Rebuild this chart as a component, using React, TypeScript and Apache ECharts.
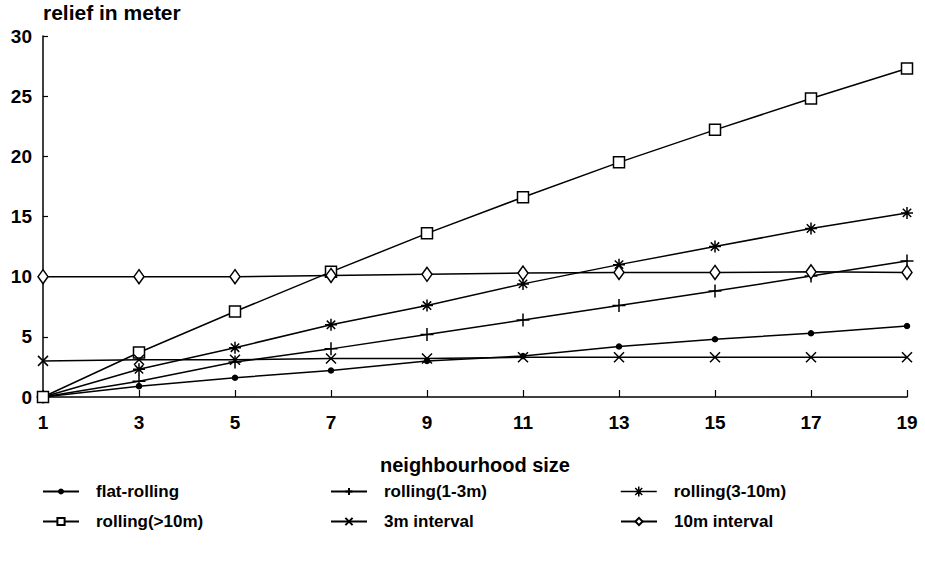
import React, { useEffect, useRef } from "react";
import * as echarts from "echarts";

const categories = ["1", "3", "5", "7", "9", "11", "13", "15", "17", "19"];
const flatRolling = [0, 0.9, 1.6, 2.2, 3.0, 3.4, 4.2, 4.8, 5.3, 5.9];
const rolling1to3 = [0, 1.3, 2.9, 4.0, 5.2, 6.4, 7.6, 8.8, 10.05, 11.3];
const rolling3to10 = [0, 2.3, 4.1, 6.0, 7.6, 9.4, 11.0, 12.5, 14.0, 15.3];
const rollingOver10 = [0, 3.7, 7.1, 10.4, 13.6, 16.6, 19.5, 22.2, 24.8, 27.3];
const interval3m = [3.0, 3.1, 3.1, 3.2, 3.2, 3.3, 3.3, 3.3, 3.3, 3.3];
const interval10m = [10.0, 10.0, 10.0, 10.1, 10.2, 10.3, 10.35, 10.35, 10.4, 10.35];

const seriesNames = [
  "flat-rolling",
  "rolling(1-3m)",
  "rolling(3-10m)",
  "rolling(>10m)",
  "3m interval",
  "10m interval",
];

const PLUS = "path://M5,0L5,10M0,5L10,5";
const STAR = "path://M5,0L5,10M0,5L10,5M1.5,1.5L8.5,8.5M8.5,1.5L1.5,8.5";
const CROSS = "path://M0,0L10,10M10,0L0,10";
const STAR_LEGEND =
  "path://M0,5L36,5M18,0L18,10M13,5L23,5M14.5,1.5L21.5,8.5M21.5,1.5L14.5,8.5";

export default function App() {
  const ref = useRef<HTMLDivElement>(null);
  useEffect(() => {
    if (!ref.current) return;
    const chart = echarts.init(ref.current, null, { renderer: "svg" });
    const font = "'Liberation Sans', Arial, Helvetica, sans-serif";
    const black = "#000";
    const mk = (name: string, data: number[], symbol: string, size: any, hollow: boolean) => ({
      name,
      type: "line",
      data,
      symbol,
      symbolSize: size,
      showSymbol: true,
      lineStyle: { color: black, width: 1.5 },
      itemStyle: {
        color: hollow ? "#fff" : black,
        borderColor: black,
        borderWidth: 1.5,
      },
      z: 3,
    });
    const legendPos = [
      [42, 483],
      [330, 483],
      [620, 483],
      [42, 513],
      [330, 513],
      [620, 513],
    ];
    const option: any = {
      animation: false,
      backgroundColor: "#fff",
      textStyle: { fontFamily: font, color: black },
      grid: { left: 43, right: 18, top: 36, bottom: 176, containLabel: false },
      legend: seriesNames.map((n, i) => ({
        data:
          i === 2
            ? [
                {
                  name: n,
                  icon: STAR_LEGEND,
                  itemStyle: { color: black, borderColor: black, borderWidth: 1.5 },
                },
              ]
            : [n],
        left: legendPos[i][0],
        top: legendPos[i][1],
        itemWidth: 36,
        itemHeight: i === 0 ? 5 : i === 2 ? 10 : 9,
        padding: 0,
        selectedMode: false,
        textStyle: {
          fontFamily: font,
          fontSize: 17,
          fontWeight: "bold",
          color: black,
          padding: [0, 0, 0, 12],
        },
      })),
      xAxis: {
        type: "category",
        data: categories,
        boundaryGap: false,
        name: "neighbourhood size",
        nameLocation: "middle",
        nameGap: 58,
        nameTextStyle: { fontFamily: font, fontSize: 20, fontWeight: "bold", color: black },
        axisLine: { lineStyle: { color: black, width: 1.5 } },
        axisTick: { inside: true, length: 7, lineStyle: { color: black, width: 1.2 } },
        axisLabel: { fontFamily: font, fontSize: 19, fontWeight: "bold", color: black, margin: 16 },
        splitLine: { show: false },
      },
      yAxis: {
        type: "value",
        min: 0,
        max: 30,
        interval: 5,
        name: "relief in meter",
        nameLocation: "end",
        nameGap: 13,
        nameTextStyle: { fontFamily: font, fontSize: 21, fontWeight: "bold", color: black, align: "left" },
        axisLine: { show: true, lineStyle: { color: black, width: 1.5 } },
        axisTick: { show: true, inside: true, length: 5, lineStyle: { color: black, width: 1.2 } },
        axisLabel: { fontFamily: font, fontSize: 19, fontWeight: "bold", color: black, margin: 11 },
        splitLine: { show: false },
      },
      series: [
        mk(seriesNames[0], flatRolling, "circle", 5, false),
        mk(seriesNames[1], rolling1to3, PLUS, 13, false),
        mk(seriesNames[2], rolling3to10, STAR, 12, false),
        mk(seriesNames[3], rollingOver10, "rect", 11, true),
        mk(seriesNames[4], interval3m, CROSS, 10, false),
        mk(seriesNames[5], interval10m, "diamond", [10, 14], true),
      ],
    };
    chart.setOption(option);
    return () => chart.dispose();
  }, []);
  return (
    <div
      ref={ref}
      style={{ position: "absolute", left: 0, top: 0, width: 925, height: 573, background: "#fff" }}
    />
  );
}
